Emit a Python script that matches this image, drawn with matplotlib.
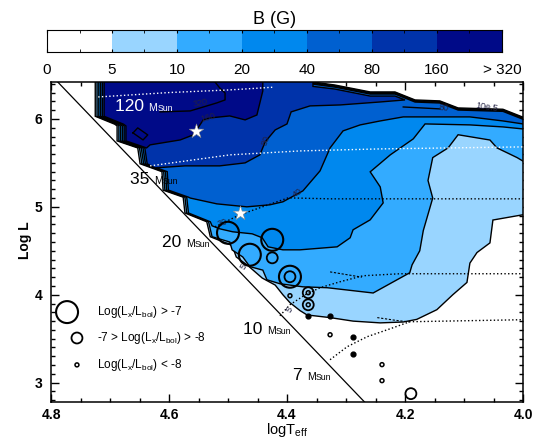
import numpy as np
import matplotlib
matplotlib.use("Agg")
import matplotlib.pyplot as plt
from matplotlib.offsetbox import TextArea, HPacker, AnnotationBbox

plt.rcParams['font.family'] = ['Liberation Sans', 'DejaVu Sans']
plt.rcParams['mathtext.fontset'] = 'custom'
plt.rcParams['mathtext.rm'] = 'Liberation Sans'

# colour levels of B (G)
CB_LABELS = ["0", "5", "10", "20", "40", "80", "160", "> 320"]
CB_COLORS = ["#FFFFFF", "#99D5FF", "#33ABFF", "#0088EE", "#0060D0", "#0033AA", "#000A88"]

# left staircase edge of the grid (logT, logL), top to bottom
STAIR_T = [4.725, 4.725, 4.692, 4.688, 4.688, 4.653, 4.649, 4.612, 4.610, 4.576, 4.573,
           4.536, 4.530, 4.493, 4.486, 4.466, 4.442, 4.420, 4.407, 4.395, 4.378]
STAIR_L = [6.50, 6.03, 5.94, 5.92, 5.75, 5.67, 5.49, 5.40, 5.19, 5.11, 4.93,
           4.83, 4.66, 4.56, 4.43, 4.33, 4.19, 4.11, 4.00, 3.91, 3.82]

# upper edge of the grid, right to left
TOP_T = [4.000, 4.034, 4.110, 4.141, 4.183, 4.217, 4.259, 4.319, 4.356, 4.356]
TOP_L = [6.02, 6.11, 6.125, 6.205, 6.216, 6.307, 6.307, 6.386, 6.42, 6.50]

# contour lines, left to right
C5_T = [4.366, 4.327, 4.288, 4.242, 4.203, 4.180, 4.146, 4.119, 4.095, 4.090, 4.078, 4.056, 4.051, 4.000]
C5_L = [3.77, 3.74, 3.70, 3.68, 3.69, 3.72, 3.83, 4.00, 4.14, 4.36, 4.48, 4.59, 4.85, 4.91]

C10_T = [4.497, 4.493, 4.475, 4.463, 4.441, 4.434, 4.412, 4.373, 4.332, 4.254, 4.192, 4.188,
         4.175, 4.169, 4.153, 4.161, 4.153, 4.127, 4.110, 4.056, 4.044, 4.010, 4.000]
C10_L = [4.60, 4.51, 4.43, 4.32, 4.28, 4.17, 4.125, 4.09, 4.08, 4.02, 4.25, 4.34,
         4.50, 4.73, 5.10, 5.30, 5.56, 5.67, 5.82, 5.76, 5.67, 5.56, 5.52]

C20_T = [4.527, 4.514, 4.492, 4.459, 4.442, 4.432, 4.407, 4.378, 4.315, 4.293, 4.288,
         4.259, 4.237, 4.242, 4.259, 4.225, 4.186, 4.166, 4.090, 4.034, 4.000]
C20_L = [4.784, 4.75, 4.716, 4.693, 4.648, 4.545, 4.511, 4.511, 4.545, 4.648, 4.739,
         4.852, 5.045, 5.227, 5.398, 5.591, 5.773, 5.943, 5.932, 5.909, 5.886]

C40_T = [4.564, 4.519, 4.468, 4.429, 4.407, 4.373, 4.344, 4.327, 4.305, 4.276, 4.242,
         4.203, 4.090, 4.034, 4.000]
C40_L = [5.10, 5.034, 5.00, 5.023, 5.057, 5.182, 5.409, 5.67, 5.864, 5.932, 5.977,
         6.023, 6.023, 5.977, 5.943]

C80_T = [4.624, 4.573, 4.514, 4.471, 4.446, 4.437, 4.420, 4.400, 4.393, 4.361, 4.310,
         4.242, 4.200, 4.217, 4.259, 4.319, 4.356, 4.356]
C80_L = [5.443, 5.466, 5.466, 5.50, 5.591, 5.739, 5.875, 5.943, 6.08, 6.148, 6.159,
         6.193, 6.216, 6.26, 6.26, 6.34, 6.37, 6.50]

C160_T = [4.632, 4.581, 4.559, 4.553, 4.542, 4.531, 4.497, 4.471, 4.451, 4.441, 4.441]
C160_L = [5.705, 5.761, 5.818, 5.875, 5.989, 6.011, 6.034, 5.989, 6.045, 6.318, 6.50]

C320_T = [4.615, 4.564, 4.519, 4.505, 4.505, 4.514, 4.522]
C320_L = [6.080, 6.091, 6.182, 6.216, 6.295, 6.352, 6.42]
ISL_T = [4.661, 4.653, 4.636, 4.644, 4.661]
ISL_L = [5.841, 5.898, 5.818, 5.761, 5.841]

# evolutionary tracks
T120_T = [4.720, 4.600, 4.497, 4.425]
T120_L = [6.25, 6.30, 6.33, 6.36]
T35_T = [4.632, 4.497, 4.378, 4.242, 4.000]
T35_L = [5.466, 5.591, 5.636, 5.659, 5.682]
T20_T = [4.522, 4.480, 4.437, 4.398, 4.327, 4.208, 4.000]
T20_L = [4.773, 4.909, 5.011, 5.102, 5.091, 5.091, 5.091]
T10_T = [4.412, 4.395, 4.369, 4.344, 4.310, 4.271, 4.208, 4.000]
T10_L = [3.761, 3.886, 4.000, 4.080, 4.148, 4.216, 4.239, 4.239]
T7_T = [4.327, 4.298, 4.264, 4.220, 4.192, 4.000]
T7_L = [3.261, 3.409, 3.523, 3.625, 3.693, 3.716]
H10_T = [4.327, 4.300, 4.273]
H10_L = [4.26, 4.23, 4.20]
H7_T = [4.247, 4.217, 4.192]
H7_L = [3.74, 3.71, 3.69]

# ZAMS-like boundary line
EDGE_T = [4.80, 4.25]
EDGE_L = [6.50, 2.65]

# X-ray stars
BIG_T = [4.500, 4.425, 4.463, 4.395]
BIG_L = [4.705, 4.625, 4.455, 4.205]
MED_T = [4.425, 4.395, 4.364, 4.364, 4.190]
MED_L = [4.420, 4.205, 4.023, 3.886, 2.875]
SMALL_T = [4.395, 4.364, 4.364, 4.327, 4.239, 4.239]
SMALL_L = [3.989, 4.023, 3.886, 3.545, 3.205, 3.023]
FILL_T = [4.364, 4.327, 4.288, 4.288]
FILL_L = [3.761, 3.761, 3.523, 3.330]

STAR_T = [4.554, 4.480]
STAR_L = [5.864, 4.932]

MASS_LABELS = [("120", 4.692, 6.136, "white"), ("35", 4.666, 5.307, "black"),
               ("20", 4.612, 4.591, "black"), ("10", 4.475, 3.602, "black"),
               ("7", 4.390, 3.080, "black")]

CONTOUR_TEXT = [("320", 4.547, 6.18, 12), ("160", 4.534, 6.01, 15), ("80", 4.436, 5.76, 70),
                ("40", 4.383, 5.16, 35), ("30", 4.510, 4.82, 20), ("5", 4.473, 4.32, 60),
                ("5", 4.395, 3.83, 60), ("10e.5", 4.061, 6.14, -8), ("80", 4.135, 6.12, -5)]


def level_patch(ax, n_stair, shift, ct, cl, color, top_drop=None):
    t = [x - shift for x in STAIR_T[:n_stair]] + list(ct)
    l = STAIR_L[:n_stair] + list(cl)
    if top_drop is not None:
        t += [3.98, 3.98] + TOP_T
        l += [cl[-1], TOP_L[0] - top_drop] + [y - top_drop for y in TOP_L]
    ax.fill(t, l, facecolor=color, edgecolor='black', linewidth=1.0, zorder=2)


def mass_label(ax, num, x, y, color):
    parts = [TextArea(num + " ", textprops=dict(size=12.5, color=color)),
             TextArea("M", textprops=dict(size=7.5, color=color)),
             TextArea("Sun", textprops=dict(size=6.3, color=color))]
    box = HPacker(children=parts, align="baseline", pad=0, sep=0)
    ab = AnnotationBbox(box, (x, y), xycoords='data', box_alignment=(0, 0.5),
                        frameon=False, pad=0, zorder=6)
    ax.add_artist(ab)


fig = plt.figure(figsize=(5.45, 4.42), dpi=100)
ax = fig.add_axes([51 / 545, 1 - 402 / 442, 472 / 545, 320 / 442])

# filled levels, lowest first
level_patch(ax, 21, 0.0, C5_T, C5_L, CB_COLORS[1], top_drop=0.0)
level_patch(ax, 13, 0.003, C10_T, C10_L, CB_COLORS[2], top_drop=0.008)
level_patch(ax, 12, 0.006, C20_T, C20_L, CB_COLORS[3], top_drop=0.016)
level_patch(ax, 10, 0.009, C40_T, C40_L, CB_COLORS[4], top_drop=0.024)
level_patch(ax, 7, 0.012, C80_T, C80_L, CB_COLORS[5])
level_patch(ax, 6, 0.015, C160_T, C160_L, CB_COLORS[6])
ax.plot(C320_T, C320_L, color='black', lw=1.0, zorder=3)
ax.plot(ISL_T, ISL_L, color='black', lw=1.0, zorder=3)
ax.plot([4.203, 4.141], [6.136, 6.114], color='black', lw=1.0, zorder=3)

# tracks
ax.plot(T120_T, T120_L, color='white', ls=':', lw=1.0, zorder=4)
ax.plot(T35_T, T35_L, color='white', ls=':', lw=1.0, zorder=4)
for tt, tl in [(T20_T, T20_L), (T10_T, T10_L), (T7_T, T7_L)]:
    ax.plot(tt, tl, color='black', ls=':', lw=1.0, zorder=4)
for tt, tl in [(H10_T, H10_L), (H7_T, H7_L)]:
    ax.plot(tt, tl, color='black', ls=(0, (2, 1.5)), lw=0.8, zorder=4)

ax.plot(EDGE_T, EDGE_L, color='black', lw=0.9, zorder=4)

for txt, x, y, rot in CONTOUR_TEXT:
    ax.text(x, y, txt, fontsize=6.5, color='#222244', rotation=rot,
            ha='center', va='center', zorder=4)

# X-ray detections
ax.scatter(BIG_T, BIG_L, s=250, facecolors='none', edgecolors='black', linewidths=1.5, zorder=5)
ax.scatter(MED_T, MED_L, s=62, facecolors='none', edgecolors='black', linewidths=1.3, zorder=5)
ax.scatter(SMALL_T, SMALL_L, s=8, facecolors='none', edgecolors='black', linewidths=1.1, zorder=5)
ax.scatter(FILL_T, FILL_L, s=12, color='black', zorder=5)
ax.scatter(STAR_T, STAR_L, marker='*', s=120, color='white', edgecolors='#888888',
           linewidths=0.4, zorder=6)

for num, x, y, c in MASS_LABELS:
    mass_label(ax, num, x, y, c)

# legend
leg_y = [0.281, 0.20, 0.116]
ax.scatter([0.034], [leg_y[0]], s=250, facecolors='none', edgecolors='black', linewidths=1.5,
           transform=ax.transAxes, zorder=6)
ax.scatter([0.055], [leg_y[1]], s=62, facecolors='none', edgecolors='black', linewidths=1.3,
           transform=ax.transAxes, zorder=6)
ax.scatter([0.055], [leg_y[2]], s=8, facecolors='none', edgecolors='black', linewidths=1.1,
           transform=ax.transAxes, zorder=6)
leg_txt = [r"Log(L$_{\mathregular{x}}$/L$_{\mathregular{bol}}$) > -7",
           r"-7 > Log(L$_{\mathregular{x}}$/L$_{\mathregular{bol}}$) > -8",
           r"Log(L$_{\mathregular{x}}$/L$_{\mathregular{bol}}$) < -8"]
for t, y in zip(leg_txt, leg_y):
    ax.text(0.097, y, t, transform=ax.transAxes, fontsize=8.5, va='center', ha='left', zorder=6)

ax.set_xlim(4.8, 4.0)
ax.set_ylim(2.78, 6.42)
ax.set_xticks([4.8, 4.6, 4.4, 4.2, 4.0])
ax.set_xticklabels(["4.8", "4.6", "4.4", "4.2", "4.0"])
ax.set_xticks(np.arange(4.0, 4.81, 0.05), minor=True)
ax.set_yticks([3, 4, 5, 6])
ax.set_yticks(np.arange(2.8, 6.45, 0.1), minor=True)
ax.tick_params(which='both', direction='in', top=True, right=True, width=1.0)
ax.tick_params(which='major', length=6, labelsize=10, pad=4)
ax.tick_params(axis='y', which='major', pad=6)
ax.tick_params(which='minor', length=3)
for lab in ax.get_xticklabels() + ax.get_yticklabels():
    lab.set_fontweight('bold')
for sp in ax.spines.values():
    sp.set_linewidth(1.1)

fig.text(25 / 545, 1 - 240 / 442, "Log L", rotation=90, fontsize=10, fontweight='bold',
         ha='center', va='center')
fig.text(287 / 545, 1 - 434 / 442, r"logT$_{\mathregular{eff}}$", fontsize=10.5,
         ha='center', va='baseline')

# colour bar
cax = fig.add_axes([47 / 545, 1 - 52 / 442, 455 / 545, 22 / 442])
cax.bar(np.arange(len(CB_COLORS)), 1, width=1, align='edge', color=CB_COLORS, edgecolor='none')
cax.set_xlim(0, len(CB_COLORS))
cax.set_ylim(0, 1)
cax.set_xticks(np.arange(len(CB_LABELS)))
cax.set_xticklabels(CB_LABELS)
cax.set_xticks(np.arange(0.5, len(CB_COLORS), 1), minor=True)
cax.set_yticks([])
cax.tick_params(axis='x', which='both', direction='in', top=True, bottom=True, length=2.5,
                labelsize=11, pad=8)
cax.set_title("B (G)", fontsize=13, pad=4)

fig.savefig("out.png", dpi=100)
